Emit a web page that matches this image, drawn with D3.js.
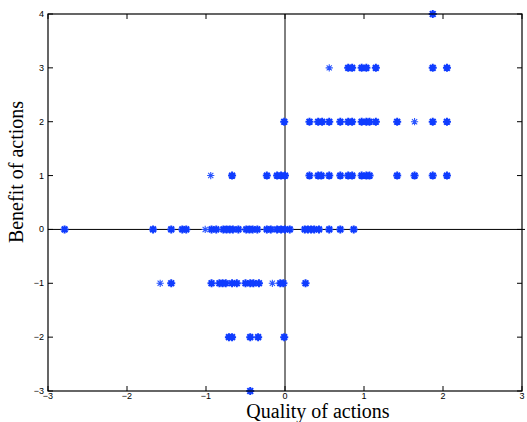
<!DOCTYPE html>
<html>
<head>
<meta charset="utf-8">
<script src="https://cdn.jsdelivr.net/npm/d3@7"></script>
<style>
html,body{margin:0;padding:0;background:#fff;}
svg{display:block;}
</style>
</head>
<body>
<script>
// ---- data ----
const xTicks = [-3, -2, -1, 0, 1, 2, 3];
const yTicks = [-3, -2, -1, 0, 1, 2, 3, 4];
const xLabel = "Quality of actions";
const yLabel = "Benefit of actions";

// x positions of points at each benefit level (y value)
const row4  = [1.87];
const row3  = [0.80, 0.85, 0.97, 1.03, 1.15, 1.87, 2.05];
const row2  = [-0.01, 0.31, 0.42, 0.47, 0.56, 0.70, 0.80, 0.85, 0.97, 1.03, 1.07, 1.15, 1.42, 1.87, 2.05];
const row1  = [-0.67, -0.23, -0.10, -0.05, 0.00, 0.31, 0.42, 0.46, 0.56, 0.70, 0.80, 0.85, 0.97, 1.03, 1.07, 1.42, 1.64, 1.87, 2.05];
const row0  = [-2.79, -1.67, -1.44, -1.30, -1.25, -0.93, -0.87, -0.78, -0.74, -0.70, -0.66, -0.59, -0.49, -0.45, -0.41, -0.35, -0.23, -0.18, -0.10, -0.05, 0.00, 0.06, 0.25, 0.29, 0.33, 0.37, 0.43, 0.56, 0.70, 0.87];
const rowM1 = [-1.44, -0.93, -0.83, -0.79, -0.75, -0.67, -0.61, -0.50, -0.44, -0.40, -0.33, -0.06, -0.02, 0.26];
const rowM2 = [-0.71, -0.67, -0.44, -0.34, -0.01];
const rowM3 = [-0.44];
// single (thin) observations
const thinX = [0.56, 1.64, -0.94, -1.01, -1.58, -0.16];
const thinY = [3, 2, 1, 0, -1, -1];

const rows = [[4, row4], [3, row3], [2, row2], [1, row1], [0, row0], [-1, rowM1], [-2, rowM2], [-3, rowM3]];

// ---- layout ----
const W = 527, H = 422;
const m = {left: 48, top: 14, right: 522, bottom: 391};
const svg = d3.select("body").append("svg").attr("width", W).attr("height", H);

const x = d3.scaleLinear().domain([-3, 3]).range([m.left, m.right]);
const y = d3.scaleLinear().domain([-3, 4]).range([m.bottom, m.top]);

const blue = "#0f3cff";

// zero lines
svg.append("line").attr("x1", x(-3)).attr("x2", x(3) + 3).attr("y1", y(0)).attr("y2", y(0))
  .attr("stroke", "#000").attr("stroke-width", 1);
svg.append("line").attr("x1", x(0)).attr("x2", x(0)).attr("y1", y(4)).attr("y2", y(-3))
  .attr("stroke", "#000").attr("stroke-width", 1);

// asterisk marker
function star(g, cx, cy, r, sw, col) {
  const d = `M${cx - r},${cy}L${cx + r},${cy}M${cx},${cy - r}L${cx},${cy + r}` +
    `M${cx - r * 0.72},${cy - r * 0.72}L${cx + r * 0.72},${cy + r * 0.72}` +
    `M${cx - r * 0.72},${cy + r * 0.72}L${cx + r * 0.72},${cy - r * 0.72}`;
  g.append("path").attr("d", d).attr("stroke", col).attr("stroke-width", sw).attr("fill", "none");
}

const pts = svg.append("g");
rows.forEach(([yv, xs]) => {
  xs.forEach(xv => {
    pts.append("circle").attr("cx", x(xv)).attr("cy", y(yv)).attr("r", 2.6).attr("fill", blue);
    star(pts, x(xv), y(yv), 4, 2, blue);
  });
});
thinX.forEach((xv, i) => star(pts, x(xv), y(thinY[i]), 3.6, 1.1, "#2a55ff"));

// frame
svg.append("rect").attr("x", m.left).attr("y", m.top)
  .attr("width", m.right - m.left).attr("height", m.bottom - m.top)
  .attr("fill", "none").attr("stroke", "#000").attr("stroke-width", 1.2);

// ticks (inside)
const tl = 5;
const tg = svg.append("g").attr("stroke", "#000").attr("stroke-width", 1);
xTicks.forEach(t => {
  tg.append("line").attr("x1", x(t)).attr("x2", x(t)).attr("y1", m.bottom).attr("y2", m.bottom - tl);
  tg.append("line").attr("x1", x(t)).attr("x2", x(t)).attr("y1", m.top).attr("y2", m.top + tl);
});
yTicks.forEach(t => {
  tg.append("line").attr("x1", m.left).attr("x2", m.left + tl).attr("y1", y(t)).attr("y2", y(t));
  tg.append("line").attr("x1", m.right).attr("x2", m.right - tl).attr("y1", y(t)).attr("y2", y(t));
});

const fmt = v => (v < 0 ? "\u2212" + Math.abs(v) : String(v));
const lab = svg.append("g").attr("font-family", "Liberation Sans, Arial, sans-serif").attr("font-size", 9).attr("fill", "#000");
xTicks.forEach(t => {
  lab.append("text").attr("x", x(t)).attr("y", m.bottom + 8).attr("text-anchor", "middle").text(fmt(t));
});
yTicks.forEach(t => {
  lab.append("text").attr("x", m.left - 4).attr("y", y(t) + 3).attr("text-anchor", "end").text(fmt(t));
});

// axis labels
svg.append("text").attr("x", 318).attr("y", 418).attr("text-anchor", "middle")
  .attr("font-family", "Liberation Serif, Times New Roman, serif").attr("font-size", 20).text(xLabel);
svg.append("text").attr("transform", `translate(23,${172}) rotate(-90)`).attr("text-anchor", "middle")
  .attr("font-family", "Liberation Serif, Times New Roman, serif").attr("font-size", 20).text(yLabel);
</script>
</body>
</html>
